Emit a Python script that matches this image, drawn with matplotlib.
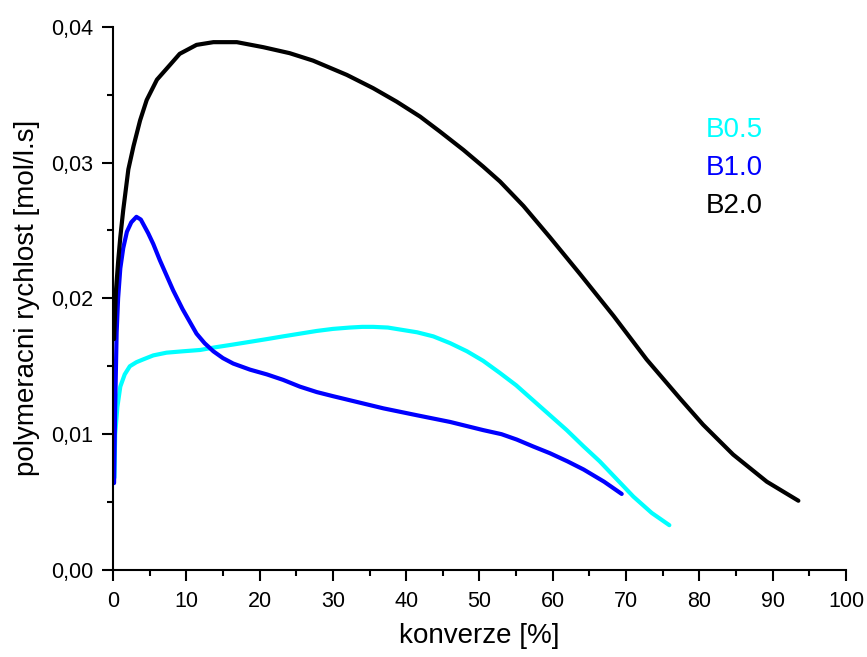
import numpy as np
import matplotlib
matplotlib.use("Agg")
import matplotlib.pyplot as plt
from matplotlib.ticker import FuncFormatter, MultipleLocator

plt.rcParams["font.family"] = ["Liberation Sans", "DejaVu Sans"]

# B0.5
x_b05 = [0.2, 0.3, 0.6, 1.0, 1.6, 2.3, 3.2, 4.1, 5.5, 7.3, 9.5, 11.9, 14.0,
         16.4, 18.7, 21.0, 23.2, 25.5, 27.8, 30.0, 32.3, 34.0, 35.5, 37.5,
         39.2, 41.5, 43.7, 46.0, 48.3, 50.5, 52.8, 55.0, 57.3, 59.6, 61.9,
         64.2, 66.4, 68.7, 71.0, 73.5, 75.9]
y_b05 = [0.0068, 0.0100, 0.0120, 0.0135, 0.0144, 0.0150, 0.0153, 0.0155,
         0.0158, 0.0160, 0.0161, 0.0162, 0.0164, 0.0166, 0.0168, 0.0170,
         0.0172, 0.0174, 0.0176, 0.01775, 0.01785, 0.0179, 0.0179, 0.01785,
         0.0177, 0.0175, 0.0172, 0.0167, 0.0161, 0.0154, 0.0145, 0.0136,
         0.0125, 0.0114, 0.0103, 0.0091, 0.0080, 0.0067, 0.0054, 0.0042,
         0.0033]

# B1.0
x_b10 = [0.15, 0.3, 0.5, 0.7, 1.0, 1.4, 1.9, 2.5, 3.2, 3.8, 4.8, 5.5, 6.4,
         7.3, 8.2, 9.5, 11.4, 12.5, 13.7, 15.0, 16.4, 18.7, 21.0, 23.2,
         25.5, 27.8, 30.0, 32.3, 36.9, 41.4, 46.0, 50.5, 53.0, 55.1, 57.3,
         59.6, 62.0, 64.2, 67.0, 69.4]
y_b10 = [0.0064, 0.0120, 0.0175, 0.0200, 0.0222, 0.0237, 0.0249, 0.0256,
         0.0260, 0.0258, 0.0248, 0.0240, 0.0228, 0.0217, 0.0206, 0.0192,
         0.0174, 0.0167, 0.0161, 0.0156, 0.0152, 0.01475, 0.0144, 0.0140,
         0.0135, 0.0131, 0.0128, 0.0125, 0.0119, 0.0114, 0.0109, 0.0103,
         0.0100, 0.0096, 0.0091, 0.0086, 0.0080, 0.0074, 0.0065, 0.0056]

# B2.0
x_b20 = [0.15, 0.4, 0.72, 1.0, 1.4, 2.1, 2.8, 3.7, 4.6, 6.0, 7.8, 9.1,
         11.4, 13.7, 16.9, 20.5, 24.1, 27.3, 31.9, 35.5, 38.7, 41.9, 44.6,
         47.8, 50.5, 52.8, 56.0, 59.6, 63.7, 68.3, 72.8, 77.4, 80.5, 84.6,
         89.2, 93.5]
y_b20 = [0.0170, 0.0205, 0.0228, 0.0245, 0.0265, 0.0295, 0.0312, 0.0331,
         0.0346, 0.0361, 0.0372, 0.0380, 0.03866, 0.03886, 0.03886, 0.03849,
         0.03805, 0.0375, 0.03645, 0.03547, 0.03448, 0.03338, 0.03228,
         0.03093, 0.0297, 0.0286, 0.0268, 0.0245, 0.0218, 0.0187, 0.0155,
         0.0126, 0.0107, 0.0085, 0.0065, 0.0051]

series_names = ["B0.5", "B1.0", "B2.0"]
series_colors = ["#00FFFF", "#0000FF", "#000000"]

fig = plt.figure(figsize=(8.67, 6.57), dpi=100)
ax = fig.add_axes([0.1303, 0.1324, 0.8455, 0.827])

for xs, ys, c in zip([x_b05, x_b10, x_b20], [y_b05, y_b10, y_b20],
                     series_colors):
    ax.plot(xs, ys, color=c, lw=3, solid_capstyle="round",
            solid_joinstyle="round")

ax.set_xlim(0, 100)
ax.set_ylim(0, 0.04)
ax.xaxis.set_major_locator(MultipleLocator(10))
ax.xaxis.set_minor_locator(MultipleLocator(5))
ax.yaxis.set_major_locator(MultipleLocator(0.01))
ax.yaxis.set_minor_locator(MultipleLocator(0.005))
ax.yaxis.set_major_formatter(
    FuncFormatter(lambda v, p: f"{v:.2f}".replace(".", ",")))

for side in ["top", "right"]:
    ax.spines[side].set_visible(False)
for side in ["left", "bottom"]:
    ax.spines[side].set_linewidth(1.5)

ax.tick_params(which="major", direction="out", length=8, width=1.5,
               labelsize=15.5)
ax.tick_params(axis="x", which="major", pad=7)
ax.tick_params(axis="y", which="major", pad=6)
ax.tick_params(which="minor", direction="out", length=4.5, width=1.5)

ax.set_xlabel("konverze [%]", fontsize=20, labelpad=8)
ax.set_ylabel("polymeracni rychlost [mol/l.s]", fontsize=20, labelpad=8)

for i, (name, c) in enumerate(zip(series_names, series_colors)):
    ax.text(0.808, 0.809 - i * 0.0695, name, color=c, fontsize=20,
            transform=ax.transAxes, va="center", ha="left")

fig.savefig("out.png", dpi=100)
